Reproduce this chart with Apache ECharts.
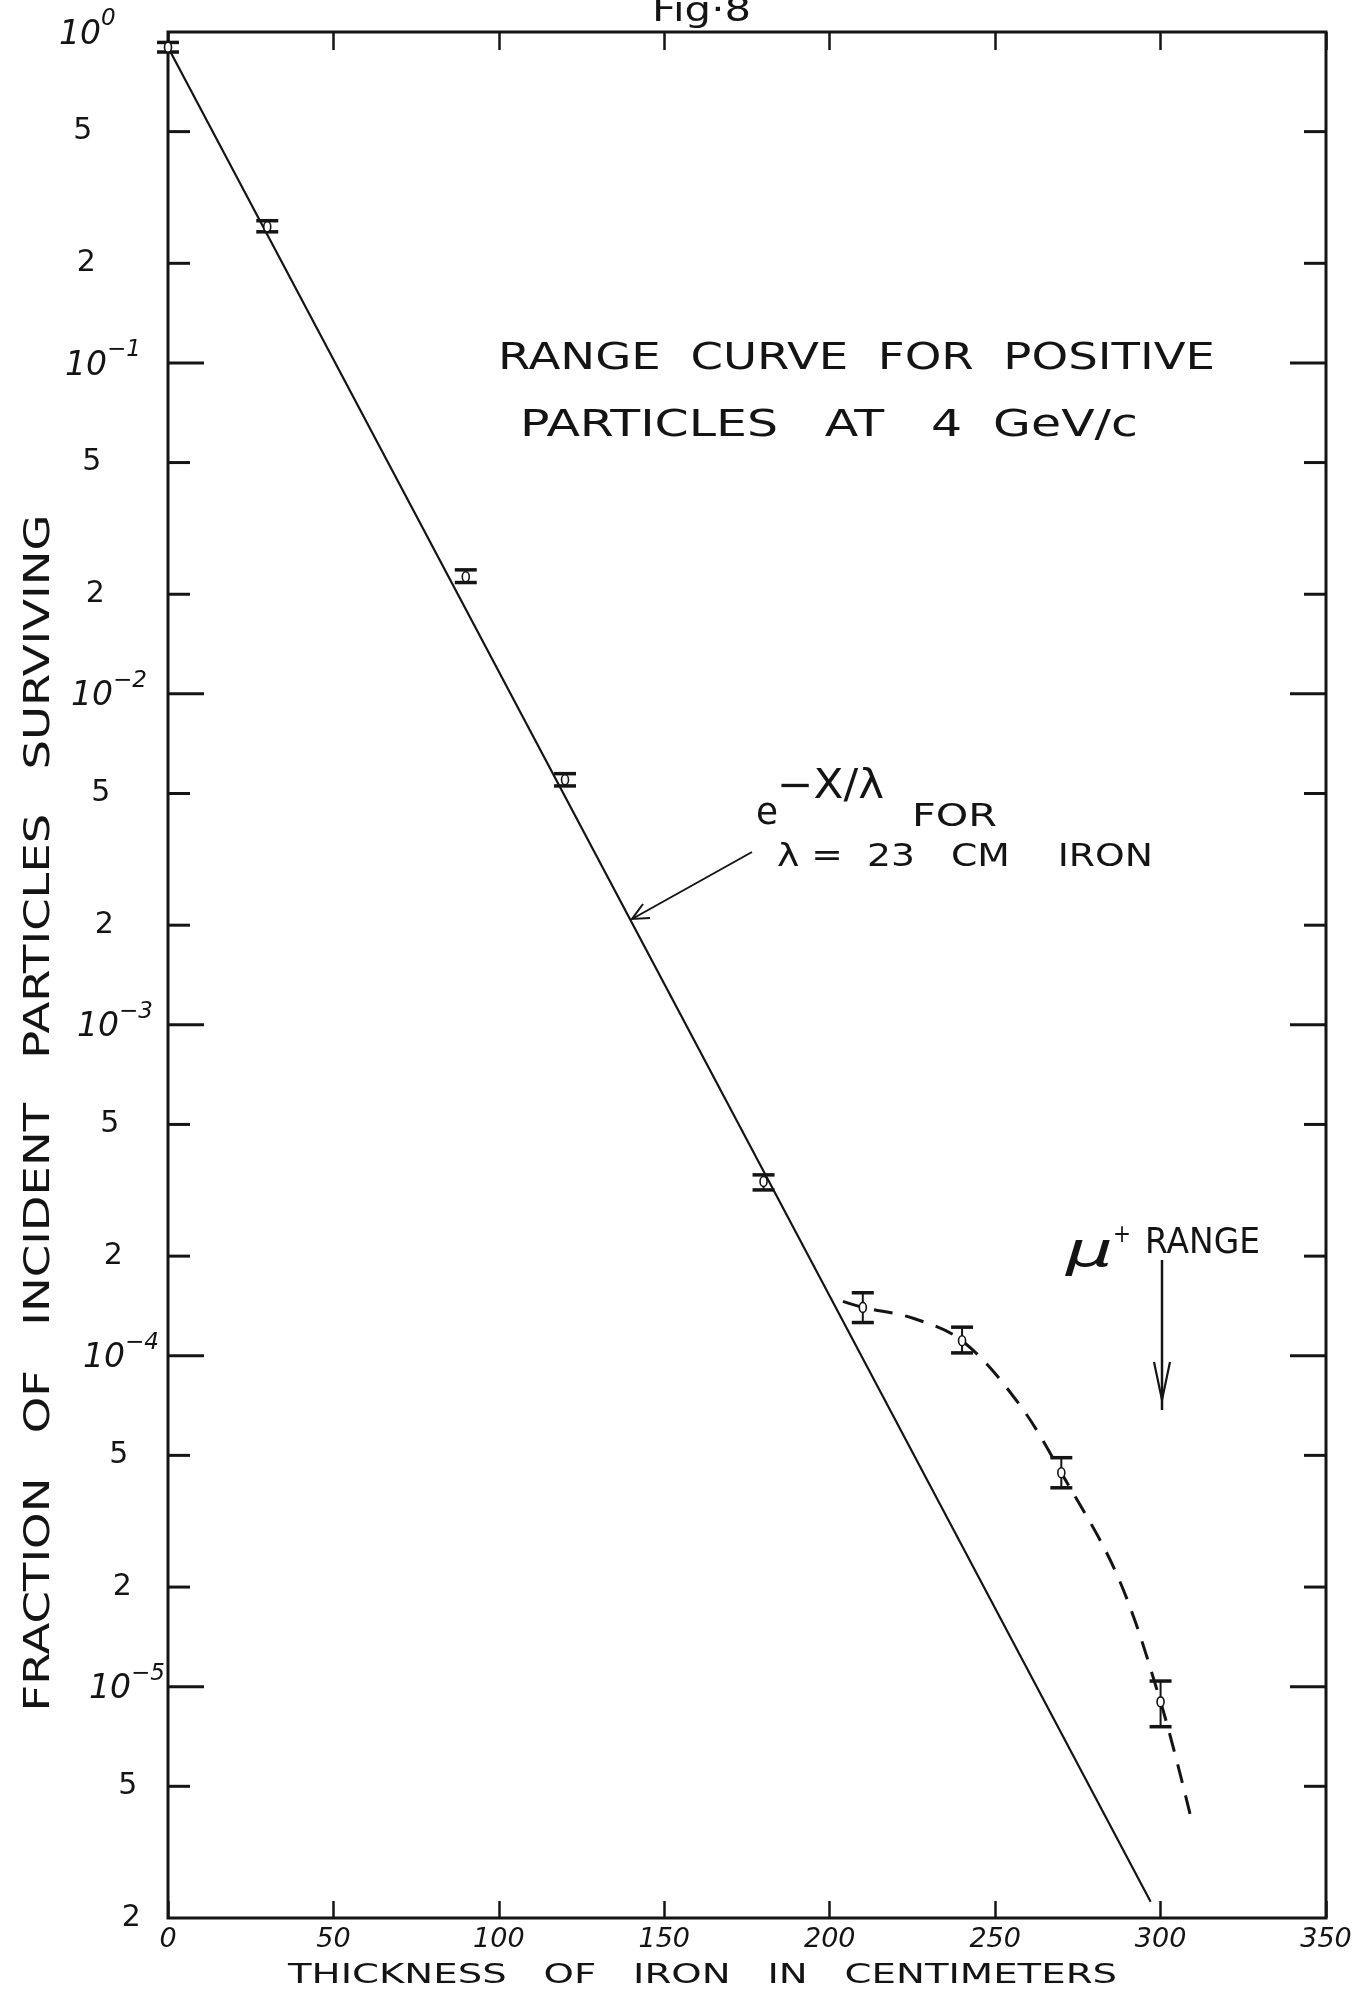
<!DOCTYPE html>
<html><head><meta charset="utf-8">
<script src="https://cdn.jsdelivr.net/npm/echarts@6/dist/echarts.min.js"></script>
<style>html,body{margin:0;padding:0;background:#fff}#chart{width:1372px;height:1996px}</style>
</head><body><div id="chart"></div>
<script>
// ---------- data ----------
const xMin = 0, xMax = 350, xStep = 50;
const yMin = 2e-6, yMax = 1;
// measured points (thickness in cm, fraction surviving) with error-bar limits
const thickness = [0, 30, 90, 120, 180, 210, 240, 270, 300];
const fraction  = [0.90, 0.258, 0.0226, 0.0055, 3.36e-4, 1.40e-4, 1.11e-4, 4.43e-5, 9.0e-6];
const errLow    = [0.87, 0.249, 0.0217, 0.00527, 3.17e-4, 1.26e-4, 1.02e-4, 3.99e-5, 7.57e-6];
const errHigh   = [0.93, 0.269, 0.0237, 0.00574, 3.52e-4, 1.55e-4, 1.22e-4, 4.92e-5, 1.04e-5];
// straight line e^{-x/lambda} as drawn (end points)
const expLineX = [0, 297];
const expLineY = [0.90, 2.24e-6];
// dashed hand-drawn curve through the late points
const dashX = [204, 210, 225, 240, 257, 270, 287, 300, 309.5];
const dashY = [1.46e-4, 1.40e-4, 1.30e-4, 1.11e-4, 7.2e-5, 4.43e-5, 2.16e-5, 9.0e-6, 3.9e-6];
// y tick values and their labels
const yTickValues = [1, 0.5, 0.2, 0.1, 0.05, 0.02, 0.01, 0.005, 0.002, 0.001, 5e-4, 2e-4, 1e-4, 5e-5, 2e-5, 1e-5, 5e-6, 2e-6];
const yTickBase   = ['10','5','2','10','5','2','10','5','2','10','5','2','10','5','2','10','5','2'];
const yTickExp    = ['0','','','\u22121','','','\u22122','','','\u22123','','','\u22124','','','\u22125','',''];

// ---------- styling ----------
const INK = '#141414';
const FONT = "'DejaVu Sans', 'Liberation Sans', sans-serif";
const mctx = document.createElement('canvas').getContext('2d');
function fitScale(text, size, target, fstyle) {
  mctx.font = (fstyle || 'normal') + ' ' + size + 'px ' + FONT;
  return target / mctx.measureText(text).width;
}
function txt(text, left, cy, size, width, extra) {
  extra = extra || {};
  return {
    type: 'text', x: left, y: cy,
    scaleX: width ? fitScale(text, size, width, extra.fontStyle) : 1,
    rotation: extra.rotation || 0,
    style: {
      text: text, fontSize: size, fontFamily: FONT, fontStyle: extra.fontStyle || 'normal',
      fill: INK, align: extra.align || 'left', textAlign: extra.align || 'left',
      verticalAlign: 'middle', textVerticalAlign: 'middle'
    },
    z: 10
  };
}

const chart = echarts.init(document.getElementById('chart'), null, {renderer: 'canvas'});

const option = {
  animation: false,
  backgroundColor: '#ffffff',
  grid: { left: 168, right: 46, top: 32, bottom: 78, show: true, borderColor: INK, borderWidth: 3, backgroundColor: 'transparent' },
  xAxis: [
    { type: 'value', position: 'bottom', min: xMin, max: xMax, interval: xStep,
      axisLine: { show: false }, splitLine: { show: false },
      axisTick: { show: true, inside: true, length: 17, lineStyle: { color: INK, width: 2.5 } },
      axisLabel: { margin: 8, fontSize: 27, fontStyle: 'italic', fontFamily: FONT, color: INK } },
    { type: 'value', position: 'top', min: xMin, max: xMax, interval: xStep,
      axisLine: { show: false }, splitLine: { show: false },
      axisTick: { show: true, inside: true, length: 18, lineStyle: { color: INK, width: 2.5 } },
      axisLabel: { show: false } }
  ],
  yAxis: { type: 'log', logBase: 10, min: yMin, max: yMax,
    axisLine: { show: false }, axisTick: { show: false }, axisLabel: { show: false }, splitLine: { show: false } },
  series: [
    { name: 'exp', type: 'line', xAxisIndex: 0, data: expLineX.map((x, i) => [x, expLineY[i]]),
      symbol: 'none', lineStyle: { color: INK, width: 2.2 }, z: 3 },
    { name: 'muon', type: 'line', xAxisIndex: 0, data: dashX.map((x, i) => [x, dashY[i]]),
      symbol: 'none', smooth: 0.35, lineStyle: { color: INK, width: 3, type: [19, 13] }, z: 3 },
    { name: 'yticks', type: 'custom', xAxisIndex: 0, clip: false, silent: true,
      data: yTickValues.map(v => [xMin, v]),
      renderItem: function (params, api) {
        const i = params.dataIndex;
        const v = api.value(1);
        const pl = api.coord([xMin, v]);
        const pr = api.coord([xMax, v]);
        const isDecade = yTickExp[i] !== '';
        const len = isDecade ? 36 : 22;
        const children = [];
        if (v !== yMax && v !== yMin) {
          children.push({ type: 'line', shape: { x1: pl[0], y1: pl[1], x2: pl[0] + len, y2: pl[1] }, style: { stroke: INK, lineWidth: 3 } });
          children.push({ type: 'line', shape: { x1: pr[0] - len, y1: pr[1], x2: pr[0], y2: pr[1] }, style: { stroke: INK, lineWidth: 3 } });
        }
        if (isDecade) {
          const lx = 80 + 6 * (-Math.log10(v));
          children.push({ type: 'text', x: lx, y: pl[1] + 3, style: { text: yTickBase[i], fontSize: 33, fontStyle: 'italic', fontFamily: FONT, fill: INK, align: 'center', textAlign: 'center', verticalAlign: 'middle', textVerticalAlign: 'middle' } });
          children.push({ type: 'text', x: lx + 21, y: pl[1] - 13, style: { text: yTickExp[i], fontSize: 23, fontStyle: 'italic', fontFamily: FONT, fill: INK, align: 'left', textAlign: 'left', verticalAlign: 'middle', textVerticalAlign: 'middle' } });
        } else {
          const lx = 80 + 9 * (-Math.log10(v));
          children.push({ type: 'text', x: lx, y: pl[1], style: { text: yTickBase[i], fontSize: 30, fontFamily: FONT, fill: INK, align: 'center', textAlign: 'center', verticalAlign: 'middle', textVerticalAlign: 'middle' } });
        }
        return { type: 'group', children: children };
      }, z: 5 },
    { name: 'points', type: 'custom', xAxisIndex: 0, clip: false,
      data: thickness.map((x, i) => [x, fraction[i], errLow[i], errHigh[i]]),
      encode: { x: 0, y: [1, 2, 3] },
      renderItem: function (params, api) {
        const x = api.value(0), y = api.value(1), lo = api.value(2), hi = api.value(3);
        const c = api.coord([x, y]);
        const cl = api.coord([x, lo]);
        const ch = api.coord([x, hi]);
        const hw = 11;
        return { type: 'group', children: [
          { type: 'line', shape: { x1: c[0], y1: ch[1], x2: c[0], y2: cl[1] }, style: { stroke: INK, lineWidth: 2 } },
          { type: 'line', shape: { x1: c[0] - hw, y1: ch[1], x2: c[0] + hw, y2: ch[1] }, style: { stroke: INK, lineWidth: 3.5 } },
          { type: 'line', shape: { x1: c[0] - hw, y1: cl[1], x2: c[0] + hw, y2: cl[1] }, style: { stroke: INK, lineWidth: 3.5 } },
          { type: 'ellipse', shape: { cx: c[0], cy: c[1], rx: 3.5, ry: 5 }, style: { fill: '#ffffff', stroke: INK, lineWidth: 1.6 } }
        ] };
      }, z: 6 }
  ],
  graphic: [
    txt('Fig\u00b78', 652, 12, 34, 99),
    txt('RANGE  CURVE  FOR  POSITIVE', 498, 359, 38, 717),
    txt('PARTICLES   AT   4  GeV/c', 520, 426, 38, 618),
    txt('e', 756, 814, 38, 22),
    txt('\u2212X/\u03bb', 777, 788, 40, 107),
    txt('FOR', 912, 818, 32, 85),
    txt('\u03bb =  23   CM    IRON', 777, 858, 32, 376),
    txt('\u03bc', 1066, 1254, 48, 47, { fontStyle: 'italic' }),
    txt('+', 1113, 1236, 24, 18),
    txt('RANGE', 1145, 1244, 36, 115),
    txt('THICKNESS   OF   IRON   IN   CENTIMETERS', 288, 1976, 26, 829),
    Object.assign(txt('FRACTION   OF   INCIDENT   PARTICLES   SURVIVING', 0, 0, 36, 1197, { align: 'center', rotation: Math.PI / 2 }), { x: 40, y: 1113 }),
    // arrow to the straight line
    { type: 'polyline', shape: { points: [[752, 852], [632, 919]] }, style: { stroke: INK, lineWidth: 2, fill: null }, z: 10 },
    { type: 'polyline', shape: { points: [[650, 918], [632, 919], [643, 904]] }, style: { stroke: INK, lineWidth: 2, fill: null }, z: 10 },
    // mu range arrow
    { type: 'polyline', shape: { points: [[1162, 1260], [1162, 1410]] }, style: { stroke: INK, lineWidth: 2.5, fill: null }, z: 10 },
    { type: 'polyline', shape: { points: [[1154, 1362], [1162, 1400], [1170, 1362]] }, style: { stroke: INK, lineWidth: 2.2, fill: null }, z: 10 }
  ]
};
chart.setOption(option);
</script>
</body></html>
